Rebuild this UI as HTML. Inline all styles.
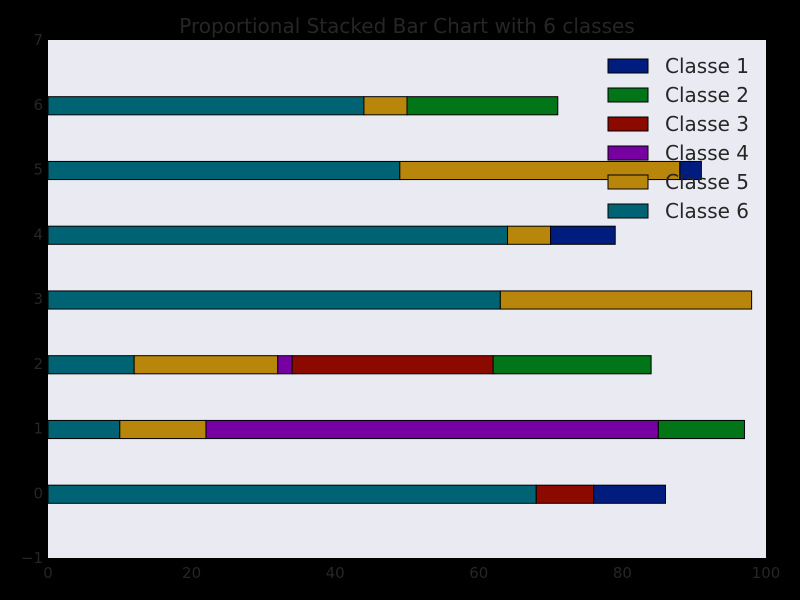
<!DOCTYPE html>
<html><head><meta charset="utf-8"><style>
html,body{margin:0;padding:0;background:#000;}
svg{display:block;font-family:"DejaVu Sans","Liberation Sans",sans-serif;}
</style></head><body>
<svg id="chart" width="800" height="600">
<rect x="0" y="0" width="800" height="600" fill="#000"/>
<rect x="48" y="40" width="718" height="518" fill="#eaeaf2"/>
<text x="407" y="33" text-anchor="middle" font-size="20" fill="#262626">Proportional Stacked Bar Chart with 6 classes</text>
<g id="bars"></g>
<g id="ticks"></g>
<g id="legend"></g>
</svg>
<script>
const categories = [0,1,2,3,4,5,6];
const classNames = ["Classe 1","Classe 2","Classe 3","Classe 4","Classe 5","Classe 6"];
const colors = ["#001c7f","#017517","#8c0900","#7600a1","#b8860b","#006374"];
const classe6 = [68,10,12,63,64,49,44];
const classe5 = [0,12,20,35,6,39,6];
const classe4 = [0,63,2,0,0,0,0];
const classe3 = [8,0,28,0,0,0,0];
const classe2 = [0,12,22,0,0,0,21];
const classe1 = [10,0,0,0,9,3,0];
const xTicks = [0,20,40,60,80,100];
const yTicks = [-1,0,1,2,3,4,5,6,7];

const NS="http://www.w3.org/2000/svg";
const L=48,R=766,T=40,B=558;
const xs=v=>L+(v-0)/(100-0)*(R-L);
const ys=v=>T+(7-v)/(7-(-1))*(B-T);
const bh=0.28;
const barsG=document.getElementById('bars');
const order=[[classe6,5],[classe5,4],[classe4,3],[classe3,2],[classe2,1],[classe1,0]];
categories.forEach((c,i)=>{
  let acc=0;
  order.forEach(([arr,ci])=>{
    const v=arr[i];
    if(v>0){
      const r=document.createElementNS(NS,'rect');
      r.setAttribute('x',xs(acc));r.setAttribute('width',xs(acc+v)-xs(acc));
      r.setAttribute('y',ys(c+bh/2)+1);r.setAttribute('height',ys(c-bh/2)-ys(c+bh/2));
      r.setAttribute('fill',colors[ci]);r.setAttribute('stroke','#000');r.setAttribute('stroke-width','1');
      
      
      barsG.appendChild(r);
    }
    acc+=v;
  });
});
const tG=document.getElementById('ticks');
xTicks.forEach(t=>{
  const tx=document.createElementNS(NS,'text');
  tx.setAttribute('x',xs(t));tx.setAttribute('y',578);tx.setAttribute('text-anchor','middle');
  tx.setAttribute('font-size','15');tx.setAttribute('fill','#262626');tx.textContent=t;
  
  
  tG.appendChild(tx);
});
yTicks.forEach(t=>{
  const tx=document.createElementNS(NS,'text');
  tx.setAttribute('x',43);tx.setAttribute('y',ys(t)+5);tx.setAttribute('text-anchor','end');
  tx.setAttribute('font-size','15');tx.setAttribute('fill','#262626');tx.textContent=t<0?'\u2212'+(-t):t;
  
  
  tG.appendChild(tx);
});
const lg=document.getElementById('legend');
classNames.forEach((n,i)=>{
  const y=59+i*29;
  const r=document.createElementNS(NS,'rect');
  r.setAttribute('x',608);r.setAttribute('y',y);r.setAttribute('width',40);r.setAttribute('height',14);
  r.setAttribute('fill',colors[i]);r.setAttribute('stroke','#000');
  
  
  lg.appendChild(r);
  const tx=document.createElementNS(NS,'text');
  tx.setAttribute('x',665);tx.setAttribute('y',y+14);tx.setAttribute('font-size','20');tx.setAttribute('fill','#262626');
  tx.textContent=n;
  
  
  lg.appendChild(tx);
});
</script>
</body></html>
